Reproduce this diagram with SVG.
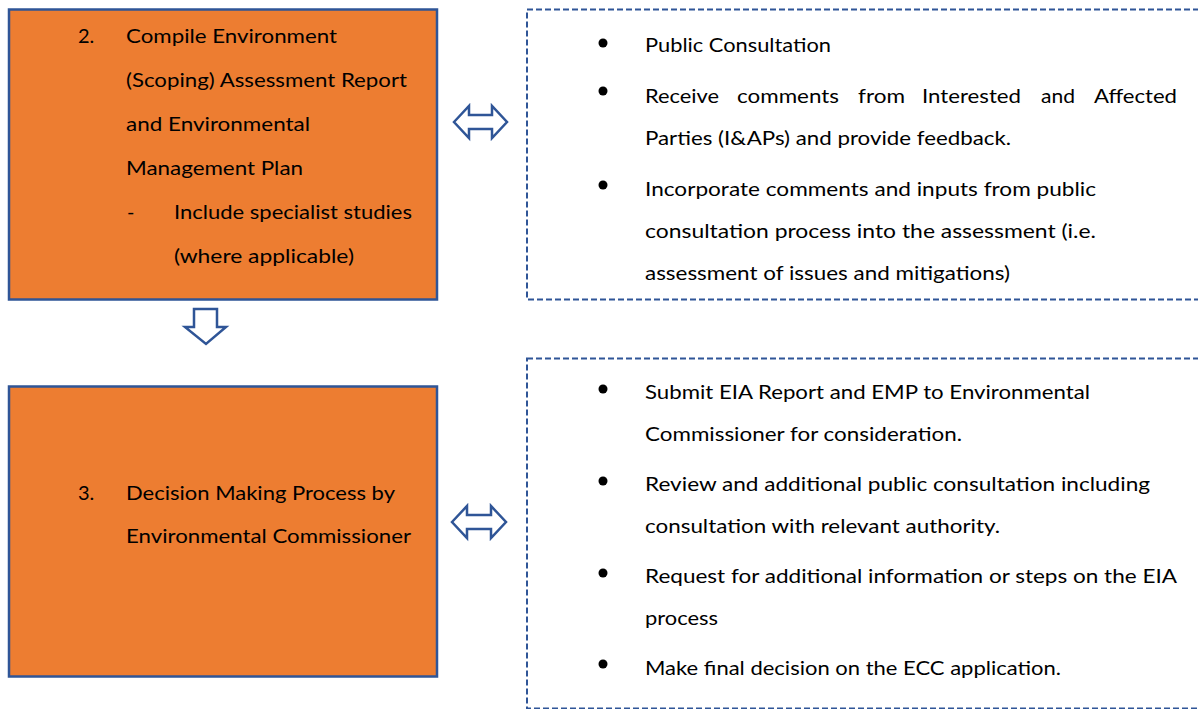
<svg xmlns="http://www.w3.org/2000/svg" width="1198" height="709" viewBox="0 0 1198 709">
<style>
.box{fill:#ED7D31;stroke:#2F5597;stroke-width:2.5}
.dash{fill:#fff;stroke:#2F5597;stroke-width:2;stroke-dasharray:6 3}
.arr{fill:#fff;stroke:#2F5597;stroke-width:2.5;stroke-linejoin:miter}
.t{font-family:Lato,"Open Sans","Liberation Sans",sans-serif;font-size:20px;fill:#000}
.b{fill:#000}
</style>
<rect width="1198" height="709" fill="#fff"/>
<g id="node-step2">
<rect class="box" x="9" y="9.5" width="428" height="290"/>
<text class="t" x="78" y="43">2.</text>
<text class="t" x="126" y="43" textLength="211" lengthAdjust="spacingAndGlyphs">Compile Environment</text>
<text class="t" x="126" y="87" textLength="281" lengthAdjust="spacingAndGlyphs">(Scoping) Assessment Report</text>
<text class="t" x="126" y="131" textLength="184" lengthAdjust="spacingAndGlyphs">and Environmental</text>
<text class="t" x="126" y="175" textLength="177" lengthAdjust="spacingAndGlyphs">Management Plan</text>
<text class="t" x="127" y="219">-</text>
<text class="t" x="174" y="219" textLength="238" lengthAdjust="spacingAndGlyphs">Include specialist studies</text>
<text class="t" x="174" y="263" textLength="180" lengthAdjust="spacingAndGlyphs">(where applicable)</text>
</g>
<g id="node-step3">
<rect class="box" x="9" y="386.5" width="428" height="290"/>
<text class="t" x="78" y="500">3.</text>
<text class="t" x="126" y="500" textLength="269" lengthAdjust="spacingAndGlyphs">Decision Making Process by</text>
<text class="t" x="126" y="543" textLength="285" lengthAdjust="spacingAndGlyphs">Environmental Commissioner</text>
</g>
<g id="node-consult">
<rect class="dash" x="527" y="9.5" width="700" height="290"/>
<circle class="b" cx="603" cy="43" r="4.5"/>
<circle class="b" cx="603" cy="91" r="4.5"/>
<circle class="b" cx="603" cy="185" r="4.5"/>
<text class="t" x="645" y="52" textLength="186" lengthAdjust="spacingAndGlyphs">Public Consultation</text>
<text class="t" x="645" y="103" textLength="74" lengthAdjust="spacingAndGlyphs">Receive</text>
<text class="t" x="737" y="103" textLength="102" lengthAdjust="spacingAndGlyphs">comments</text>
<text class="t" x="858" y="103" textLength="47" lengthAdjust="spacingAndGlyphs">from</text>
<text class="t" x="922" y="103" textLength="99" lengthAdjust="spacingAndGlyphs">Interested</text>
<text class="t" x="1041" y="103" textLength="34" lengthAdjust="spacingAndGlyphs">and</text>
<text class="t" x="1094" y="103" textLength="83" lengthAdjust="spacingAndGlyphs">Affected</text>
<text class="t" x="645" y="145" textLength="366" lengthAdjust="spacingAndGlyphs">Parties (I&amp;APs) and provide feedback.</text>
<text class="t" x="645" y="196" textLength="451" lengthAdjust="spacingAndGlyphs">Incorporate comments and inputs from public</text>
<text class="t" x="645" y="238" textLength="451" lengthAdjust="spacingAndGlyphs">consultation process into the assessment (i.e.</text>
<text class="t" x="645" y="280" textLength="365" lengthAdjust="spacingAndGlyphs">assessment of issues and mitigations)</text>
</g>
<g id="node-decision">
<rect class="dash" x="527" y="358.5" width="700" height="350"/>
<circle class="b" cx="603" cy="389" r="4.5"/>
<circle class="b" cx="603" cy="481" r="4.5"/>
<circle class="b" cx="603" cy="573" r="4.5"/>
<circle class="b" cx="603" cy="664" r="4.5"/>
<text class="t" x="645" y="399" textLength="445" lengthAdjust="spacingAndGlyphs">Submit EIA Report and EMP to Environmental</text>
<text class="t" x="645" y="441" textLength="317" lengthAdjust="spacingAndGlyphs">Commissioner for consideration.</text>
<text class="t" x="645" y="491" textLength="505" lengthAdjust="spacingAndGlyphs">Review and additional public consultation including</text>
<text class="t" x="645" y="533" textLength="355" lengthAdjust="spacingAndGlyphs">consultation with relevant authority.</text>
<text class="t" x="645" y="583" textLength="532" lengthAdjust="spacingAndGlyphs">Request for additional information or steps on the EIA</text>
<text class="t" x="645" y="625" textLength="73" lengthAdjust="spacingAndGlyphs">process</text>
<text class="t" x="645" y="675" textLength="416" lengthAdjust="spacingAndGlyphs">Make final decision on the ECC application.</text>
</g>
<g id="connectors">
<polygon class="arr" points="454,122 469,106 469,115 492,115 492,106 507,122 492,138 492,129 469,129 469,138"/>
<polygon class="arr" points="452,522 467,506 467,515 491,515 491,506 506,522 491,538 491,529 467,529 467,538"/>
<polygon class="arr" points="194,309 217,309 217,327 226,327 206,344 185,327 194,327"/>
</g>
</svg>
